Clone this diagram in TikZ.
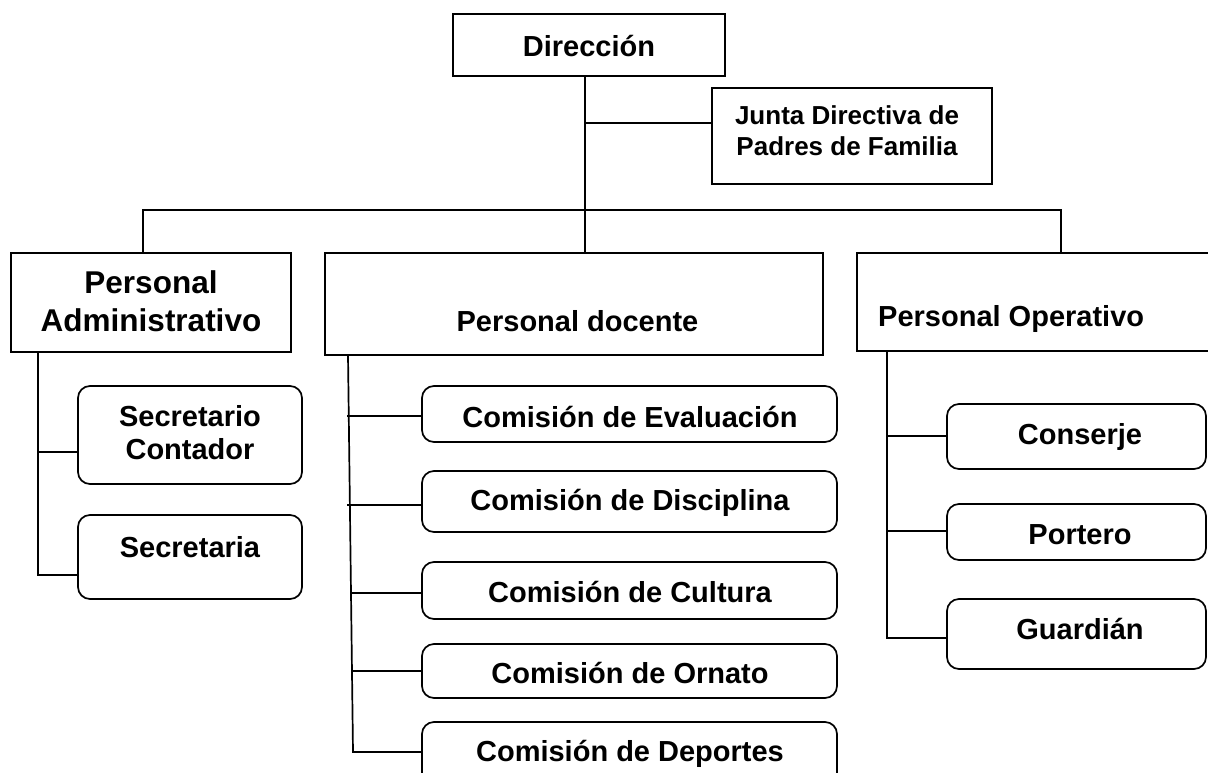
\documentclass[tikz,border=0pt]{standalone}
\usepackage{fontspec}
\setmainfont{Liberation Sans}
\begin{document}
\begin{tikzpicture}[x=1pt,y=-1pt,
  box/.style={draw,line width=1.7pt,inner sep=0pt},
  rbox/.style={box,rounded corners=12pt},
  conn/.style={line width=1.7pt},
  lbl/.style={font=\bfseries\fontsize{29}{33}\selectfont,inner sep=0pt,anchor=base},
  lblj/.style={font=\bfseries\fontsize{26}{31}\selectfont,inner sep=0pt,align=center},
  lbla/.style={font=\bfseries\fontsize{31.5}{38}\selectfont,inner sep=0pt,align=center},
  lbls/.style={font=\bfseries\fontsize{29}{33}\selectfont,inner sep=0pt,align=center}]
\useasboundingbox (0,0) rectangle (1208,772);
\clip (0,0) rectangle (1208,772);

% boxes
\node[box,minimum width=272pt,minimum height=62pt] (dir) at (589,45) {};
\node[box,minimum width=280pt,minimum height=96pt] (junta) at (852,136) {};
\node[box,minimum width=280pt,minimum height=99pt] (adm) at (151,302.5) {};
\node[box,minimum width=498pt,minimum height=102pt] (doc) at (574,304) {};
\node[box,minimum width=358pt,minimum height=98pt] (op) at (1036,302) {};

\node[rbox,minimum width=224pt,minimum height=98pt] (sc) at (190,435) {};
\node[rbox,minimum width=224pt,minimum height=84pt] (sa) at (190,557) {};

\node[rbox,minimum width=415pt,minimum height=56pt] (ev) at (629.5,414) {};
\node[rbox,minimum width=415pt,minimum height=61pt] (di) at (629.5,501.5) {};
\node[rbox,minimum width=415pt,minimum height=57pt] (cu) at (629.5,590.5) {};
\node[rbox,minimum width=415pt,minimum height=54pt] (or) at (629.5,671) {};
\node[rbox,minimum width=415pt,minimum height=70pt] (de) at (629.5,757) {};

\node[rbox,minimum width=259pt,minimum height=65pt] (co) at (1076.5,436.5) {};
\node[rbox,minimum width=259pt,minimum height=56pt] (po) at (1076.5,532) {};
\node[rbox,minimum width=259pt,minimum height=70pt] (gu) at (1076.5,634) {};

% texts
\node[lbl] (tdir) at (589,56) {Dirección};
\node[lblj] (tjunta) at (847,131) {Junta Directiva de\\Padres de Familia};
\node[lbla] (tadm) at (151,301) {Personal\\Administrativo};
\node[lbl] (tdoc) at (577.5,331) {Personal docente};
\node[lbl,anchor=base west] (top) at (878,326) {Personal Operativo};
\node[lbls] (tsc) at (190,433) {Secretario\\Contador};
\node[lbl] (tsa) at (190,557) {Secretaria};
\node[lbl] (tev) at (630,427) {Comisión de Evaluación};
\node[lbl] (tdi) at (630,510) {Comisión de Disciplina};
\node[lbl] (tcu) at (630,602) {Comisión de Cultura};
\node[lbl] (tor) at (630,683) {Comisión de Ornato};
\node[lbl] (tde) at (630,761) {Comisión de Deportes};
\node[lbl] (tco) at (1080,444) {Conserje};
\node[lbl] (tpo) at (1080,544) {Portero};
\node[lbl] (tgu) at (1080,639) {Guardián};

% top connectors
\coordinate (tk) at (585,210);
\draw[conn] (tk |- dir.south) -- (tk |- doc.north);
\coordinate (jb) at (712,123);
\draw[conn] (jb -| tk) -- (jb);
\coordinate (bl) at (143,210);
\coordinate (br) at (1061,210);
\draw[conn] (bl |- adm.north) -- (bl) -- (br) -- (br |- op.north);

% administrative branch
\coordinate (av) at (38,575);
\coordinate (a1) at (38,452);
\draw[conn] (av |- adm.south) -- (av) -- (av -| sa.west);
\draw[conn] (a1) -- (a1 -| sc.west);

% teaching branch
\coordinate (dtop) at (348,355);
\coordinate (dbot) at (353,752);
\draw[conn] (dtop) -- (dbot) -- (dbot -| de.west);
\coordinate (d1) at (347,416);
\coordinate (d2) at (347,505);
\coordinate (d3) at (351,593);
\coordinate (d4) at (352,671);
\draw[conn] (d1) -- (d1 -| ev.west);
\draw[conn] (d2) -- (d2 -| di.west);
\draw[conn] (d3) -- (d3 -| cu.west);
\draw[conn] (d4) -- (d4 -| or.west);

% operative branch
\coordinate (ov) at (887,638);
\coordinate (o1) at (887,436);
\coordinate (o2) at (887,531);
\draw[conn] (ov |- op.south) -- (ov) -- (ov -| gu.west);
\draw[conn] (o1) -- (o1 -| co.west);
\draw[conn] (o2) -- (o2 -| po.west);
\end{tikzpicture}
\end{document}
